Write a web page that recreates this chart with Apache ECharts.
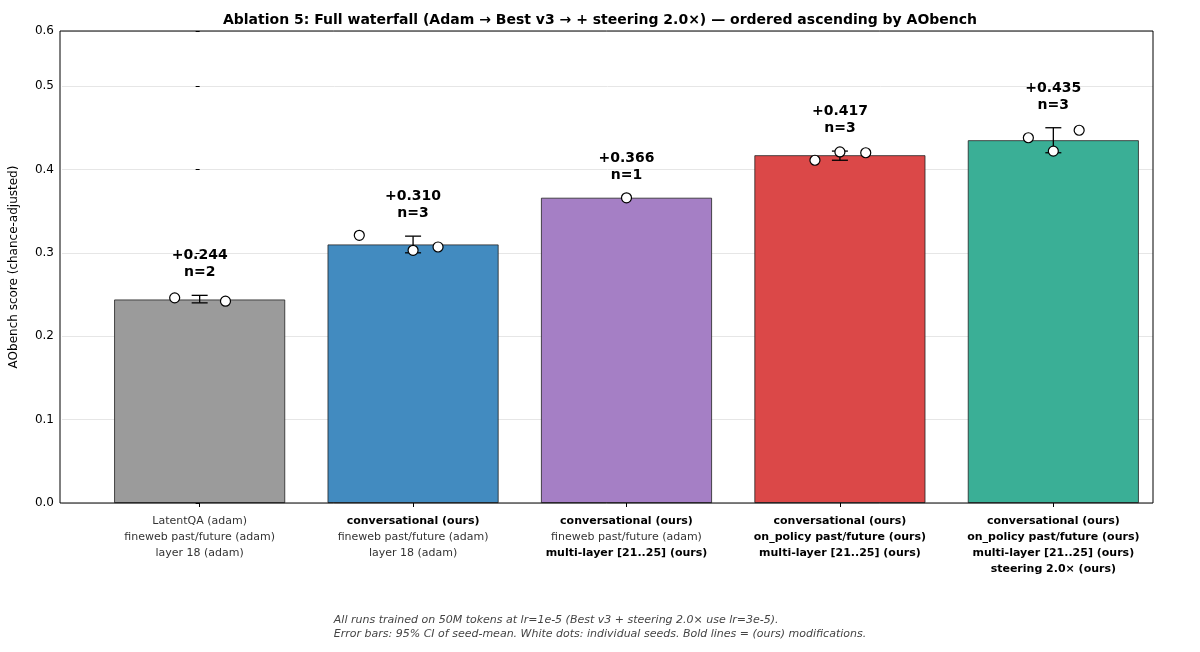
<!DOCTYPE html>
<html>
<head>
<meta charset="UTF-8">
<title>Ablation 5</title>
<script src="https://cdn.jsdelivr.net/npm/echarts@6/dist/echarts.min.js"></script>
<style>body{margin:0;background:#fff}#main{width:1200px;height:652px}</style>
</head>
<body>
<div id="main"></div>
<script>
// one entry per bar, ordered ascending by AObench
var labelLines = [
  [['LatentQA (adam)', 0], ['fineweb past/future (adam)', 0], ['layer 18 (adam)', 0]],
  [['conversational (ours)', 1], ['fineweb past/future (adam)', 0], ['layer 18 (adam)', 0]],
  [['conversational (ours)', 1], ['fineweb past/future (adam)', 0], ['multi-layer [21..25] (ours)', 1]],
  [['conversational (ours)', 1], ['on_policy past/future (ours)', 1], ['multi-layer [21..25] (ours)', 1]],
  [['conversational (ours)', 1], ['on_policy past/future (ours)', 1], ['multi-layer [21..25] (ours)', 1], ['steering 2.0\u00d7 (ours)', 1]]
];
var means = [0.244, 0.310, 0.366, 0.417, 0.435];
var nSeeds = [2, 3, 1, 3, 3];
var ciLow = [0.240, 0.300, null, 0.411, 0.420];
var ciHigh = [0.249, 0.320, null, 0.422, 0.450];
var colors = ['#9b9b9b', '#428bc0', '#a57fc5', '#db4848', '#3aaf96'];
// individual seeds: [bar index + jitter, score]
var seeds = [
  [-0.117, 0.246], [0.121, 0.242],
  [0.748, 0.321], [1.0, 0.303], [1.117, 0.307],
  [2.0, 0.366],
  [2.883, 0.411], [3.0, 0.421], [3.121, 0.420],
  [3.883, 0.438], [4.0, 0.422], [4.121, 0.447]
];

var chart = echarts.init(document.getElementById('main'));
var font = 'DejaVu Sans';

option = {
  textStyle: { fontFamily: font },
  animation: false,
  title: {
    text: 'Ablation 5: Full waterfall (Adam \u2192 Best v3 \u2192 + steering 2.0\u00d7) \u2014 ordered ascending by AObench',
    left: 'center', top: 8,
    textStyle: { fontSize: 14, fontWeight: 'bold', color: '#000', fontFamily: font }
  },
  graphic: [{
    type: 'text', left: 'center', top: 613,
    style: {
      text: 'All runs trained on 50M tokens at lr=1e-5 (Best v3 + steering 2.0\u00d7 use lr=3e-5).\nError bars: 95% CI of seed-mean. White dots: individual seeds. Bold lines = (ours) modifications.',
      font: 'italic 11px DejaVu Sans', fill: '#444', align: 'center', lineHeight: 14
    }
  }, {
    type: 'rect', shape: { x: 60, y: 31, width: 1093, height: 472 },
    style: { fill: 'none', stroke: '#000', lineWidth: 1 }, z: 20, silent: true
  }],
  grid: { left: 60, right: 47, top: 31, bottom: 149 },
  xAxis: {
    type: 'value', min: -0.645, max: 4.467,
    splitLine: { show: false },
    axisLine: { show: false },
    axisTick: { show: true, customValues: [0, 1, 2, 3, 4], length: 4, lineStyle: { color: '#000' } },
    axisLabel: {
      customValues: [0, 1, 2, 3, 4], margin: 10, verticalAlign: 'top',
      formatter: function (v) {
        var i = Math.round(v);
        return labelLines[i].map(function (l) {
          return l[1] ? '{b|' + l[0] + '}' : '{n|' + l[0] + '}';
        }).join('\n');
      },
      rich: {
        n: { fontSize: 11, color: '#333', lineHeight: 16, fontFamily: font },
        b: { fontSize: 11, color: '#000', fontWeight: 'bold', lineHeight: 16, fontFamily: font }
      }
    }
  },
  yAxis: {
    type: 'value', min: 0, max: 0.566, interval: 0.1,
    name: 'AObench score (chance-adjusted)', nameLocation: 'middle', nameGap: 42,
    nameTextStyle: { fontSize: 12, color: '#000' },
    axisLine: { show: false },
    axisTick: { show: true, length: 4, lineStyle: { color: '#000' } },
    axisLabel: { fontSize: 12, color: '#000', formatter: function (v) { return v.toFixed(1); } },
    splitLine: { lineStyle: { color: '#e6e6e6' } }
  },
  series: [{
    type: 'bar', barWidth: 171,
    data: means.map(function (m, i) {
      return { value: [i, m], itemStyle: { color: colors[i], borderColor: '#222', borderWidth: 0.8 } };
    })
  }, {
    type: 'custom', z: 5,
    data: means.map(function (m, i) { return [i, m, ciLow[i], ciHigh[i], nSeeds[i]]; }),
    renderItem: function (params, api) {
      var i = api.value(0), m = api.value(1), lo = api.value(2), hi = api.value(3);
      var children = [];
      var top = m;
      if (ciLow[i] != null) {
        var a = api.coord([i, lo]), b = api.coord([i, hi]);
        var st = { stroke: '#000', lineWidth: 1.3 };
        children.push({ type: 'line', shape: { x1: a[0], y1: a[1], x2: b[0], y2: b[1] }, style: st });
        children.push({ type: 'line', shape: { x1: a[0] - 8, y1: a[1], x2: a[0] + 8, y2: a[1] }, style: st });
        children.push({ type: 'line', shape: { x1: b[0] - 8, y1: b[1], x2: b[0] + 8, y2: b[1] }, style: st });
        top = hi;
      }
      var p = api.coord([i, top]);
      children.push({
        type: 'text', x: p[0], y: p[1] - 14,
        style: {
          text: '+' + means[i].toFixed(3) + '\nn=' + nSeeds[i],
          font: 'bold 14px DejaVu Sans', fill: '#000', align: 'center', verticalAlign: 'bottom', lineHeight: 17
        }
      });
      return { type: 'group', children: children };
    }
  }, {
    type: 'scatter', z: 6, symbol: 'circle', symbolSize: 10,
    itemStyle: { color: '#fff', borderColor: '#000', borderWidth: 1.2, opacity: 1 },
    data: seeds
  }]
};
chart.setOption(option);
</script>
</body>
</html>
